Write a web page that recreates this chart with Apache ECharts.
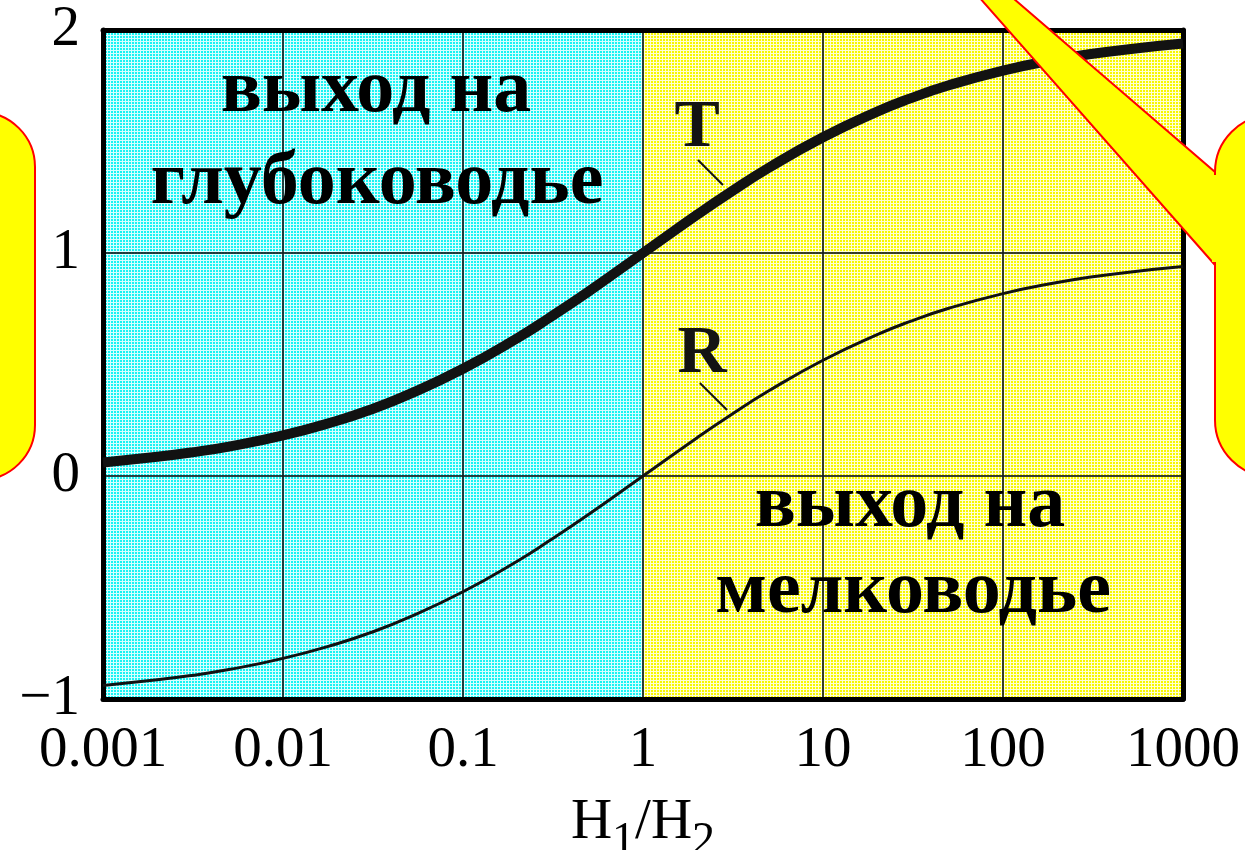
<!DOCTYPE html>
<html>
<head>
<meta charset="utf-8">
<script src="https://cdn.jsdelivr.net/npm/echarts@6/dist/echarts.min.js"></script>
<style>
  html, body { margin: 0; padding: 0; background: #ffffff; }
  #chart { width: 1245px; height: 850px; }
</style>
</head>
<body>
<div id="chart"></div>
<script>
// Depth ratio H1/H2 (log scale)
const ratio = [0.001, 0.002, 0.003, 0.005, 0.01, 0.02, 0.03, 0.05, 0.1, 0.2, 0.3, 0.5,
               1, 2, 3, 5, 10, 20, 30, 50, 100, 200, 300, 500, 1000];
// Transmission coefficient T
const transT = [0.061, 0.086, 0.104, 0.132, 0.182, 0.248, 0.295, 0.366, 0.481, 0.618, 0.708, 0.828,
                1.000, 1.172, 1.268, 1.382, 1.519, 1.634, 1.691, 1.752, 1.818, 1.868, 1.891, 1.914, 1.939];
// Reflection coefficient R
const reflR = [-0.939, -0.914, -0.896, -0.868, -0.818, -0.752, -0.705, -0.634, -0.519, -0.382, -0.292, -0.172,
               0.000, 0.172, 0.268, 0.382, 0.519, 0.634, 0.691, 0.752, 0.818, 0.868, 0.891, 0.914, 0.939];

const xTickLabels = ['0.001', '0.01', '0.1', '1', '10', '100', '1000'];
const yTickLabels = ['\u22121', '0', '1', '2'];

// Regions: deep-water exit (left) and shallow-water exit (right)
const regionBounds = [[0.001, 1], [1, 1000]];
const regionText = [['выход на', 'глубоководье'], ['выход на', 'мелководье']];

// Curve captions and their leader lines, in data coordinates
const tCaption = [2.0, 1.56];
const tLeader = [[2.02, 1.417], [2.78, 1.305]];
const rCaption = [2.13, 0.547];
const rLeader = [[2.07, 0.417], [2.93, 0.296]];

const SERIF = '"Liberation Serif", "Times New Roman", serif';

// Fine checkered fill used for the two regions
function texture(cell, line) {
  const c = document.createElement('canvas');
  c.width = 3; c.height = 3;
  const g = c.getContext('2d');
  g.fillStyle = line; g.fillRect(0, 0, 3, 3);
  g.fillStyle = cell; g.fillRect(0, 0, 2, 2);
  return c;
}
const cyanFill = { image: texture('#19f3f3', '#d6ffff'), repeat: 'repeat' };
const yellowFill = { image: texture('#f8f800', '#ffffd2'), repeat: 'repeat' };

const chart = echarts.init(document.getElementById('chart'), null, { renderer: 'canvas' });

const axisFont = { fontFamily: SERIF, fontSize: 57, color: '#000' };
const frameLine = { show: true, onZero: false, lineStyle: { color: '#000', width: 5 } };
const gridLine = { show: true, lineStyle: { color: 'rgba(20,30,30,0.85)', width: 2 } };

function logIndex(v) { return Math.round(Math.log10(v)) + 3; }

const captionFont = 'bold 76px ' + SERIF;
const calloutStyle = { fill: '#ffff00', stroke: '#ff0000', lineWidth: 2 };

const option = {
  animation: false,
  backgroundColor: '#ffffff',
  grid: { left: 103, right: 62, top: 30, bottom: 151, containLabel: false, outerBoundsMode: 'none' },
  xAxis: [{
    type: 'log', logBase: 10, min: 0.001, max: 1000, z: 2,
    position: 'bottom',
    axisLine: frameLine,
    axisTick: { show: false },
    splitLine: gridLine,
    axisLabel: Object.assign({
      margin: 24, interval: 0, showMinLabel: true, showMaxLabel: true,
      formatter: v => xTickLabels[logIndex(v)]
    }, axisFont),
    name: '{h|H}{s|1}{h|/H}{s|2}',
    nameLocation: 'middle',
    nameGap: 96,
    nameTextStyle: {
      rich: {
        h: { fontFamily: SERIF, fontSize: 57, color: '#000', lineHeight: 70, verticalAlign: 'top' },
        s: { fontFamily: SERIF, fontSize: 46, color: '#000', lineHeight: 46, verticalAlign: 'bottom' }
      }
    }
  }, {
    type: 'log', logBase: 10, min: 0.001, max: 1000, z: 2,
    position: 'top',
    axisLine: frameLine,
    axisTick: { show: false },
    axisLabel: { show: false },
    splitLine: { show: false }
  }],
  yAxis: [{
    type: 'value', min: -1, max: 2, interval: 1, z: 2,
    position: 'left',
    axisLine: frameLine,
    axisTick: { show: false },
    splitLine: gridLine,
    axisLabel: Object.assign({
      margin: 23,
      formatter: v => yTickLabels[Math.round(v) + 1]
    }, axisFont)
  }, {
    type: 'value', min: -1, max: 2, interval: 1, z: 2,
    position: 'right',
    axisLine: frameLine,
    axisTick: { show: false },
    axisLabel: { show: false },
    splitLine: { show: false }
  }],
  series: [
    {
      name: 'regions',
      type: 'line',
      data: [],
      z: 0,
      silent: true,
      markArea: {
        z: 0,
        silent: true,
        data: [
          [{ xAxis: regionBounds[0][0], yAxis: -1, itemStyle: { color: cyanFill } },
           { xAxis: regionBounds[0][1], yAxis: 2 }],
          [{ xAxis: regionBounds[1][0], yAxis: -1, itemStyle: { color: yellowFill } },
           { xAxis: regionBounds[1][1], yAxis: 2 }]
        ]
      }
    },
    {
      name: 'T',
      type: 'line',
      z: 3,
      smooth: true,
      showSymbol: false,
      data: ratio.map((x, i) => [x, transT[i]]),
      lineStyle: { color: '#121212', width: 10, cap: 'butt' },
      markPoint: {
        silent: true,
        symbol: 'circle', symbolSize: 0,
        label: { show: true, position: 'inside', formatter: '{b}',
                 fontFamily: SERIF, fontWeight: 'bold', fontSize: 68, color: '#141414' },
        data: [{ name: 'T', coord: tCaption }]
      },
      markLine: {
        silent: true, symbol: ['none', 'none'],
        label: { show: false },
        lineStyle: { color: '#141414', width: 2, type: 'solid' },
        data: [[{ coord: tLeader[0] }, { coord: tLeader[1] }]]
      }
    },
    {
      name: 'R',
      type: 'line',
      z: 3,
      smooth: true,
      showSymbol: false,
      data: ratio.map((x, i) => [x, reflR[i]]),
      lineStyle: { color: '#121212', width: 3 },
      markPoint: {
        silent: true,
        symbol: 'circle', symbolSize: 0,
        label: { show: true, position: 'inside', formatter: '{b}',
                 fontFamily: SERIF, fontWeight: 'bold', fontSize: 68, color: '#141414' },
        data: [{ name: 'R', coord: rCaption }]
      },
      markLine: {
        silent: true, symbol: ['none', 'none'],
        label: { show: false },
        lineStyle: { color: '#141414', width: 2, type: 'solid' },
        data: [[{ coord: rLeader[0] }, { coord: rLeader[1] }]]
      }
    }
  ],
  graphic: [
    // Region captions
    { type: 'text', z: 50, style: { text: regionText[0][0], x: 376, y: 91, fill: '#000',
      font: captionFont, textAlign: 'center', textVerticalAlign: 'middle' } },
    { type: 'text', z: 50, style: { text: regionText[0][1], x: 377, y: 183, fill: '#000',
      font: captionFont, textAlign: 'center', textVerticalAlign: 'middle' } },
    { type: 'text', z: 50, style: { text: regionText[1][0], x: 910, y: 506, fill: '#000',
      font: captionFont, textAlign: 'center', textVerticalAlign: 'middle' } },
    { type: 'text', z: 50, style: { text: regionText[1][1], x: 913, y: 592, fill: '#000',
      font: captionFont, textAlign: 'center', textVerticalAlign: 'middle' } },
    // Left callout box
    { type: 'rect', z: 100, shape: { x: -120, y: 112, width: 155, height: 368, r: 55 },
      style: calloutStyle },
    // Right callout box
    { type: 'rect', z: 100, shape: { x: 1215, y: 115, width: 150, height: 362, r: 57 },
      style: calloutStyle },
    // Pointer of the right callout
    { type: 'polygon', z: 101,
      shape: { points: [[964, -20], [1215, 265], [1215, 172], [992, -20]] },
      style: calloutStyle },
    // Seam between pointer and box
    { type: 'rect', z: 102, shape: { x: 1212, y: 175, width: 12, height: 87 },
      style: { fill: '#ffff00' } }
  ]
};

chart.setOption(option);
</script>
</body>
</html>
